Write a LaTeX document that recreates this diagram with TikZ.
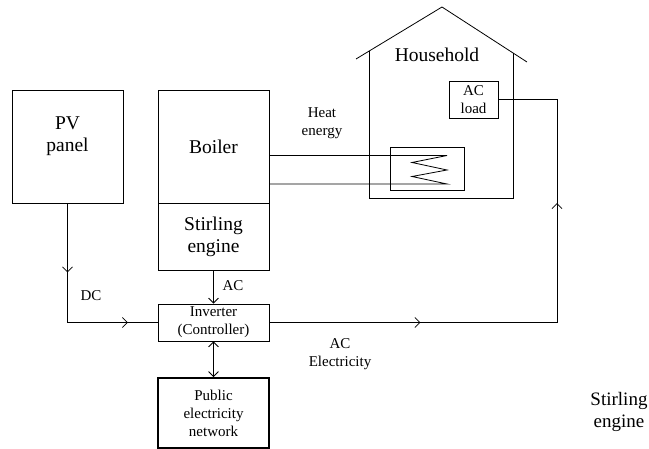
\documentclass[tikz,border=0pt]{standalone}
\usepackage{fontspec}
\setmainfont{Liberation Serif}
\usetikzlibrary{arrows.meta,decorations.markings}
\tikzset{
  box/.style={draw, line width=0.8pt, inner sep=0pt},
  bigtxt/.style={font=\fontsize{19.5}{22}\selectfont, align=center, inner sep=0pt},
  smalltxt/.style={font=\fontsize{15}{18}\selectfont, align=center, inner sep=0pt},
  wire/.style={line width=0.8pt},
  barb/.tip={Straight Barb[length=5pt,width=10pt,line width=0.8pt]},
  midarrows/.style 2 args={postaction={decorate},decoration={markings,
      mark=at position #1 with {\arrow{barb}},
      mark=at position #2 with {\arrow{barb}}}}
}
\begin{document}
\begin{tikzpicture}[x=1pt,y=-1pt]
\useasboundingbox (0,0) rectangle (649,449);

% household
\draw[wire] (356,59) -- (442,7) -- (527,62);
\draw[wire] (369,51) -- (369,198) -- (513,198) -- (513,53);
\node[bigtxt] (hh) at (437,55) {Household};

% boxes
\node[box, minimum width=111pt, minimum height=113pt] (pv) at (67.5,146.5) {};
\node[bigtxt] (pvt) at (67.5,136) {PV\\panel};
\node[box, minimum width=111pt, minimum height=113pt, font=\fontsize{19.5}{22}\selectfont] (boiler) at (213.5,146.5) {Boiler};
\node[box, minimum width=111pt, minimum height=67pt, bigtxt] (stir) at (213.5,236.5) {Stirling\\engine};
\node[box, minimum width=111pt, minimum height=37pt, smalltxt] (inv) at (213.5,322.5) {Inverter\\(Controller)};
\node[box, line width=1.8pt, minimum width=111pt, minimum height=70pt, smalltxt] (pub) at (213.5,413) {Public\\electricity\\network};
\node[box, minimum width=49pt, minimum height=37pt, smalltxt] (load) at (473.5,99.5) {AC\\load};
\node[box, minimum width=74pt, minimum height=43pt] (hx) at (427,168.5) {};

% heat pipes and coil
\coordinate (h1) at (447,155.5);
\coordinate (h2) at (447,184);
\draw[wire] (boiler.east |- h1) -- (h1) -- (412,162.5) -- (447,170) -- (412,176.5) -- (h2) -- (boiler.east |- h2);
\node[smalltxt] (heat) at (322,123) {Heat\\energy};

% DC
\coordinate (dcc) at (pv.south |- inv.west);
\draw[wire, midarrows={69pt}{179.5pt}] (pv.south) -- (dcc) -- (inv.west);
\node[smalltxt] (dc) at (91,296) {DC};

% AC from Stirling
\draw[wire, -{barb}] (stir.south) -- (inv.north);
\node[smalltxt] (ac) at (233,286) {AC};

% inverter to public
\draw[wire, {barb}-{barb}] (inv.south) -- (pub.north);

% AC electricity
\coordinate (c1) at (557,322.5);
\coordinate (c2) at (557,99.5);
\draw[wire, midarrows={151pt}{407pt}] (inv.east) -- (c1) -- (c2) -- (load.east);
\node[smalltxt] (ace) at (340,354) {AC\\Electricity};

\node[font=\fontsize{19}{21.5}\selectfont, align=center, inner sep=0pt] (se) at (619,412) {Stirling\\engine};
\end{tikzpicture}
\end{document}
